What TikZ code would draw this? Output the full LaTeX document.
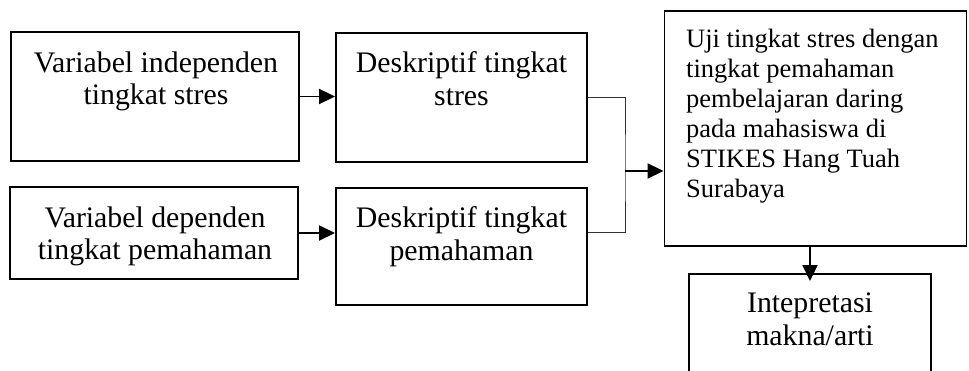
\documentclass[tikz,border=0pt]{standalone}
\usepackage{fontspec}
\setmainfont{Liberation Serif}
\usetikzlibrary{arrows.meta}
\begin{document}
\begin{tikzpicture}[x=1pt,y=-1pt,
  box/.style={draw,line width=1.9pt,inner sep=0pt},
  txt/.style={font=\fontsize{29.8}{32.5}\selectfont,align=center,inner sep=0pt,anchor=north},
  txtsmall/.style={font=\fontsize{26.5}{30}\selectfont,align=left,inner sep=0pt,anchor=north west},
  arrow/.style={line width=1.9pt,-{Triangle[length=16pt,width=15pt]}},
  thinline/.style={line width=1pt,draw=black!80}]
\clip (0,0) rectangle (969,371);
% boxes
\node[box,minimum width=288pt,minimum height=129pt] (A) at (155,96.5) {};
\node[box,minimum width=251pt,minimum height=129pt] (B) at (461.5,97.5) {};
\node[box,minimum width=288pt,minimum height=92pt] (C) at (154,233) {};
\node[box,minimum width=251pt,minimum height=117pt] (D) at (461.5,246.5) {};
\node[box,minimum width=302pt,minimum height=235pt] (E) at (815.5,128.5) {};
\node[box,minimum width=242pt,minimum height=126pt] (F) at (810,337) {};
% texts
\node[txt] (tA) at (156,51.4) {Variabel independen\\tingkat stres};
\node[txt] (tB) at (461.5,51.4) {Deskriptif tingkat\\stres};
\node[txt] (tC) at (155,206.4) {Variabel dependen\\tingkat pemahaman};
\node[txt] (tD) at (461.5,206.4) {Deskriptif tingkat\\pemahaman};
\node[txtsmall] (tE) at (686,28.6) {Uji tingkat stres dengan\\tingkat pemahaman\\pembelajaran daring\\pada mahasiswa di\\STIKES Hang Tuah\\Surabaya};
\node[txt] (tF) at (810,292.7) {Intepretasi\\makna/arti};
% connectors
\coordinate (j) at (625,171);
\draw[arrow] (A.east) -- (A.east -| B.west);
\draw[arrow] (C.east) -- (C.east -| D.west);
\draw[thinline] (B.east) -| (j) |- (C.east -| D.east);
\draw[arrow] (j) -- (j -| E.west);
\draw[arrow] (E.south -| F.north) -- ([yshift=-8pt]F.north);
\end{tikzpicture}
\end{document}
